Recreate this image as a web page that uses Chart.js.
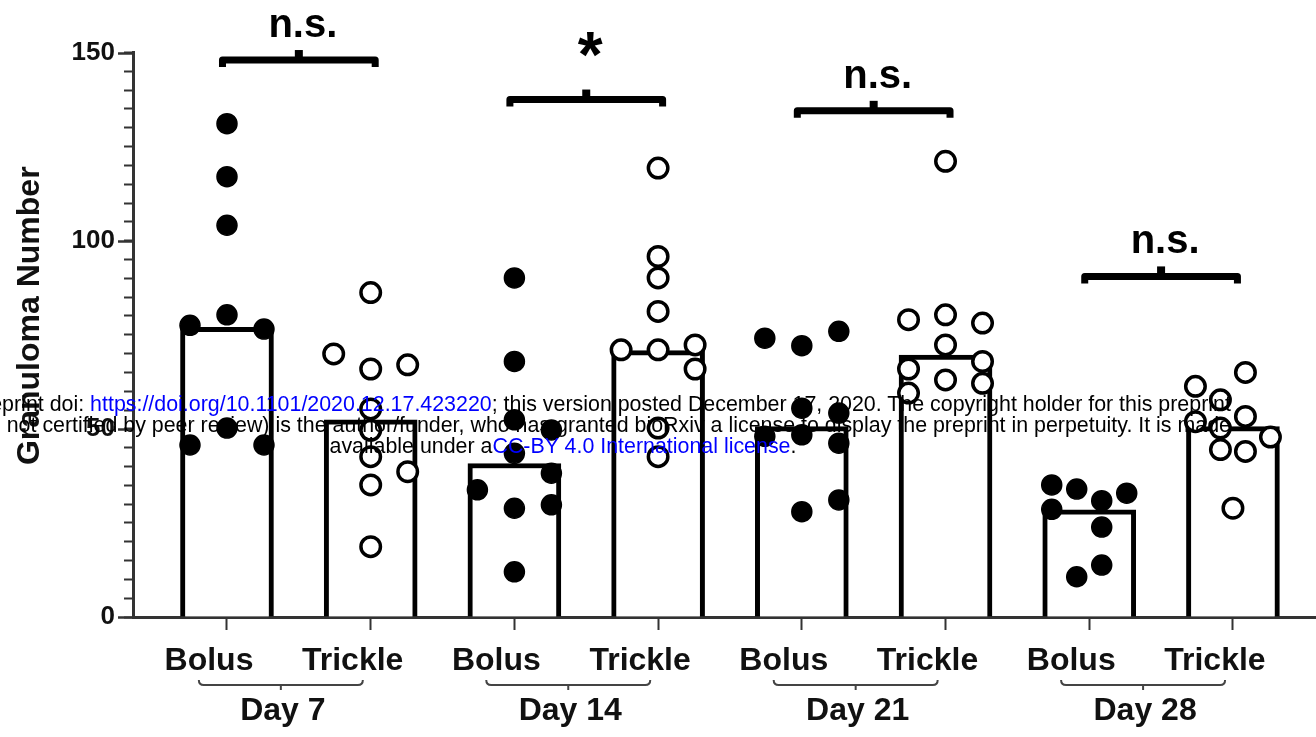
<!DOCTYPE html>
<html>
<head>
<meta charset="utf-8">
<title>Granuloma Number</title>
<script src="https://cdn.jsdelivr.net/npm/chart.js@4.4.1/dist/chart.umd.min.js"></script>
<style>
  html, body { margin: 0; padding: 0; background: #fff; overflow: hidden; }
  #wrap { position: relative; width: 1316px; height: 737px; overflow: hidden; background: #fff; }
  canvas { display: block; }
  #stamp {
    position: absolute; left: -137px; top: 394px; width: 1400px;
    text-align: center; white-space: nowrap; pointer-events: none;
    font: 21.4px/21px "Liberation Sans", Arial, Helvetica, sans-serif; color: #000;
  }
  #stamp .lnk { color: #0000ff; }
</style>
</head>
<body>
<div id="wrap">
  <canvas id="chart" width="1316" height="737"></canvas>
  <div id="stamp">
    <div>bioRxiv preprint doi: <span class="lnk">https://doi.org/10.1101/2020.12.17.423220</span>; this version posted December 17, 2020. The copyright holder for this preprint</div>
    <div>(which was not certified by peer review) is the author/funder, who has granted bioRxiv a license to display the preprint in perpetuity. It is made</div>
    <div>available under a<span class="lnk">CC-BY 4.0 International license</span>.</div>
  </div>
</div>
<script>
// ---- data -------------------------------------------------------------
const tickLabels = ['Bolus', 'Trickle', 'Bolus', 'Trickle', 'Bolus', 'Trickle', 'Bolus', 'Trickle'];
const dayLabels = ['Day 7', 'Day 14', 'Day 21', 'Day 28'];
const yLabelValues = [0, 50, 100, 150];
const yTitle = 'Granuloma Number';

// median of each group (bar height)
const medians = [77, 52.4, 40.8, 70.8, 50.6, 69.6, 28.5, 50.6];

// granuloma counts per animal
const bolusDay7    = [131.1, 117, 104.1, 80.3, 76.5, 77.5, 50.2, 45.7, 45.7];
const trickleDay7  = [86.2, 65.9, 67.0, 69.9, 55.3, 49.6, 42.6, 38.6, 35.1, 18.7];
const bolusDay14   = [90.1, 67.9, 52.4, 49.7, 43.5, 38.2, 28.9, 29.8, 33.8, 12.0];
const trickleDay14 = [119.3, 95.8, 90.1, 81.2, 71.0, 72.3, 71.0, 65.9, 50.2, 42.6];
const bolusDay21   = [72.1, 75.9, 74.1, 55.5, 54.2, 48.4, 46.2, 48.0, 28.0, 31.1];
const trickleDay21 = [121.1, 80.3, 78.1, 79.0, 63.0, 67.9, 62.1, 65.9, 72.3, 59.5];
const bolusDay28   = [30.9, 34.0, 35.1, 32.9, 13.8, 10.7, 28.6, 23.9];
const trickleDay28 = [65.0, 53.3, 57.7, 61.3, 44.0, 50.2, 51.9, 44.5, 47.8, 28.9];

// Bolus vs Trickle comparison for each day
const significance = ['n.s.', '*', 'n.s.', 'n.s.'];
const bracketLevels = [148, 137.5, 134.5, 90.5];

const groups = [bolusDay7, trickleDay7, bolusDay14, trickleDay14,
                bolusDay21, trickleDay21, bolusDay28, trickleDay28];

// ---- styling ----------------------------------------------------------
const FONT = '"Liberation Sans", Arial, Helvetica, sans-serif';
const INK = '#111';
const AXIS = '#333';

// ---- dot spreading (swarm) --------------------------------------------
const DOT = 21;     // minimum centre distance between two dots, px
const LANE = 37;    // distance between neighbouring lanes, px
const SPREAD = 75;  // widest a row of dots may become, px

function swarmOffsets(values, toPixel) {
  const ys = values.map(toPixel);
  const lonely = ys.map((a, i) => ys.every((b, j) => j === i || Math.abs(a - b) >= DOT));
  for (let k = 1; k <= 8; k++) {
    const step = k > 1 ? Math.min(LANE, SPREAD / (k - 1)) : 0;
    const slots = [];
    for (let i = 0; i < k; i++) slots.push((i - (k - 1) / 2) * step);
    // visit lanes from the middle outwards, switching side on every ring
    const rings = [...new Set(slots.map(s => Math.abs(+s.toFixed(3))))].sort((a, b) => a - b);
    const order = [];
    let ring = 0;
    rings.forEach(d => {
      if (d === 0) { order.push(0); return; }
      ring++;
      order.push(ring % 2 ? d : -d, ring % 2 ? -d : d);
    });
    const placed = [];
    let ok = true;
    for (let i = 0; i < ys.length; i++) {
      const candidates = lonely[i] ? [0] : order;
      let dx = null;
      for (const c of candidates) {
        if (placed.every(p => Math.hypot(p.dx - c, p.y - ys[i]) >= DOT)) { dx = c; break; }
      }
      if (dx === null) { ok = false; break; }
      placed.push({ dx, y: ys[i] });
    }
    if (ok) return placed.map(p => p.dx);
  }
  return values.map(() => 0);
}

// ---- extra drawing: major ticks, axis title, brackets ------------------
const annotations = {
  id: 'annotations',
  afterDraw(chart) {
    const { ctx, scales: { x, y } } = chart;
    ctx.save();

    // longer marks for the labelled y ticks
    ctx.strokeStyle = AXIS;
    ctx.lineWidth = 2.5;
    yLabelValues.forEach(v => {
      const py = Math.round(y.getPixelForValue(v)) + 0.5;
      ctx.beginPath();
      ctx.moveTo(x.left - 15, py);
      ctx.lineTo(x.left, py);
      ctx.stroke();
    });

    // y axis title
    ctx.save();
    ctx.translate(30, (y.top + y.bottom) / 2 - 19);
    ctx.rotate(-Math.PI / 2);
    ctx.font = `bold 32px ${FONT}`;
    ctx.fillStyle = INK;
    ctx.textAlign = 'center';
    ctx.textBaseline = 'middle';
    ctx.fillText(yTitle, 0, 0);
    ctx.restore();

    // significance brackets above each day
    significance.forEach((txt, d) => {
      const x1 = x.getPixelForValue(2 * d) - 8;
      const x2 = x.getPixelForValue(2 * d + 1) + 8;
      const py = y.getPixelForValue(bracketLevels[d]);
      const xm = (x1 + x2) / 2;
      ctx.strokeStyle = '#000';
      ctx.fillStyle = '#000';
      ctx.lineWidth = 7;
      ctx.lineJoin = 'round';
      ctx.lineCap = 'butt';
      ctx.beginPath();
      ctx.moveTo(x1 + 3.5, py + 7);
      ctx.lineTo(x1 + 3.5, py);
      ctx.lineTo(x2 - 3.5, py);
      ctx.lineTo(x2 - 3.5, py + 7);
      ctx.stroke();
      ctx.fillRect(xm - 4, py - 10, 8, 8);
      ctx.font = `bold ${txt === '*' ? 64 : 40}px ${FONT}`;
      ctx.textAlign = 'center';
      ctx.textBaseline = 'alphabetic';
      ctx.fillText(txt, xm + 4, py - 23);
    });

    // day brackets under the group labels
    const by = x.top + 68;
    dayLabels.forEach((lab, d) => {
      const mid = (x.getPixelForValue(2 * d) + x.getPixelForValue(2 * d + 1)) / 2 - 18;
      const half = 82;
      ctx.strokeStyle = '#444';
      ctx.lineWidth = 2;
      ctx.lineJoin = 'round';
      ctx.beginPath();
      ctx.moveTo(mid - half, by - 5);
      ctx.quadraticCurveTo(mid - half, by, mid - half + 5, by);
      ctx.lineTo(mid + half - 5, by);
      ctx.quadraticCurveTo(mid + half, by, mid + half, by - 5);
      ctx.stroke();
      ctx.beginPath();
      ctx.moveTo(mid, by);
      ctx.lineTo(mid, by + 5);
      ctx.stroke();
      ctx.font = `bold 32px ${FONT}`;
      ctx.fillStyle = INK;
      ctx.textAlign = 'center';
      ctx.textBaseline = 'alphabetic';
      ctx.fillText(lab, mid + 2, x.top + 103);
    });

    ctx.restore();
  }
};

// ---- chart ------------------------------------------------------------
const yTicks = [];
for (let v = 0; v <= 150; v += 5) yTicks.push(v);

const chart = new Chart(document.getElementById('chart'), {
  type: 'bar',
  data: {
    datasets: [
      {
        type: 'scatter', label: 'Bolus', order: 1,
        data: groups.flatMap((vals, i) => i % 2 === 0 ? vals.map(v => ({ x: i, y: v })) : []),
        pointRadius: 10, pointBorderWidth: 1.5,
        pointBackgroundColor: '#000', pointBorderColor: '#000'
      },
      {
        type: 'scatter', label: 'Trickle', order: 1,
        data: groups.flatMap((vals, i) => i % 2 === 1 ? vals.map(v => ({ x: i, y: v })) : []),
        pointRadius: 9.75, pointBorderWidth: 3.5,
        pointBackgroundColor: '#fff', pointBorderColor: '#000'
      },
      {
        type: 'bar', label: 'Median', order: 2,
        data: medians.map((m, i) => ({ x: i, y: m })),
        backgroundColor: '#fff', borderColor: '#000', borderWidth: 5,
        barThickness: 93
      }
    ]
  },
  options: {
    responsive: false,
    animation: false,
    events: [],
    layout: { autoPadding: false, padding: { top: 52.5, left: 0, right: 0, bottom: 0 } },
    plugins: { legend: { display: false }, tooltip: { enabled: false } },
    scales: {
      x: {
        type: 'linear', min: -0.654, max: 7.578, offset: false,
        afterBuildTicks: s => { s.ticks = tickLabels.map((_, i) => ({ value: i })); },
        afterFit: s => { s.height = 120; s.paddingLeft = 0; s.paddingRight = 0; },
        grid: { display: true, drawOnChartArea: false, drawTicks: true, offset: false,
                tickLength: 13, tickWidth: 2, tickColor: AXIS },
        border: { display: true, color: AXIS, width: 3 },
        ticks: {
          autoSkip: false, maxRotation: 0, minRotation: 0, padding: 12, labelOffset: -18,
          color: INK, font: { family: FONT, size: 32, weight: 'bold' },
          callback: v => tickLabels[v] ?? ''
        }
      },
      y: {
        type: 'linear', min: 0, max: 150,
        afterBuildTicks: s => { s.ticks = yTicks.map(v => ({ value: v })); },
        afterFit: s => { s.width = 133; s.paddingTop = 0; s.paddingBottom = 0; },
        grid: { display: true, drawOnChartArea: false, drawTicks: true,
                tickLength: 9, tickWidth: 2, tickColor: AXIS },
        border: { display: true, color: AXIS, width: 3 },
        ticks: {
          autoSkip: false, padding: 9,
          color: INK, font: { family: FONT, size: 26, weight: 'bold' },
          callback: v => yLabelValues.includes(v) ? String(v) : ''
        }
      }
    }
  },
  plugins: [annotations]
});

// spread the dots of each group sideways so they do not overlap
(function spreadDots() {
  const xs = chart.scales.x, ys = chart.scales.y;
  const unit = xs.getPixelForValue(1) - xs.getPixelForValue(0);
  const toPixel = v => ys.getPixelForValue(v);
  const filled = [], open = [];
  groups.forEach((vals, i) => {
    const offs = swarmOffsets(vals, toPixel);
    const pts = vals.map((v, j) => ({ x: i + offs[j] / unit, y: v }));
    (i % 2 === 0 ? filled : open).push(...pts);
  });
  chart.data.datasets[0].data = filled;
  chart.data.datasets[1].data = open;
  chart.update('none');
})();
</script>
</body>
</html>
